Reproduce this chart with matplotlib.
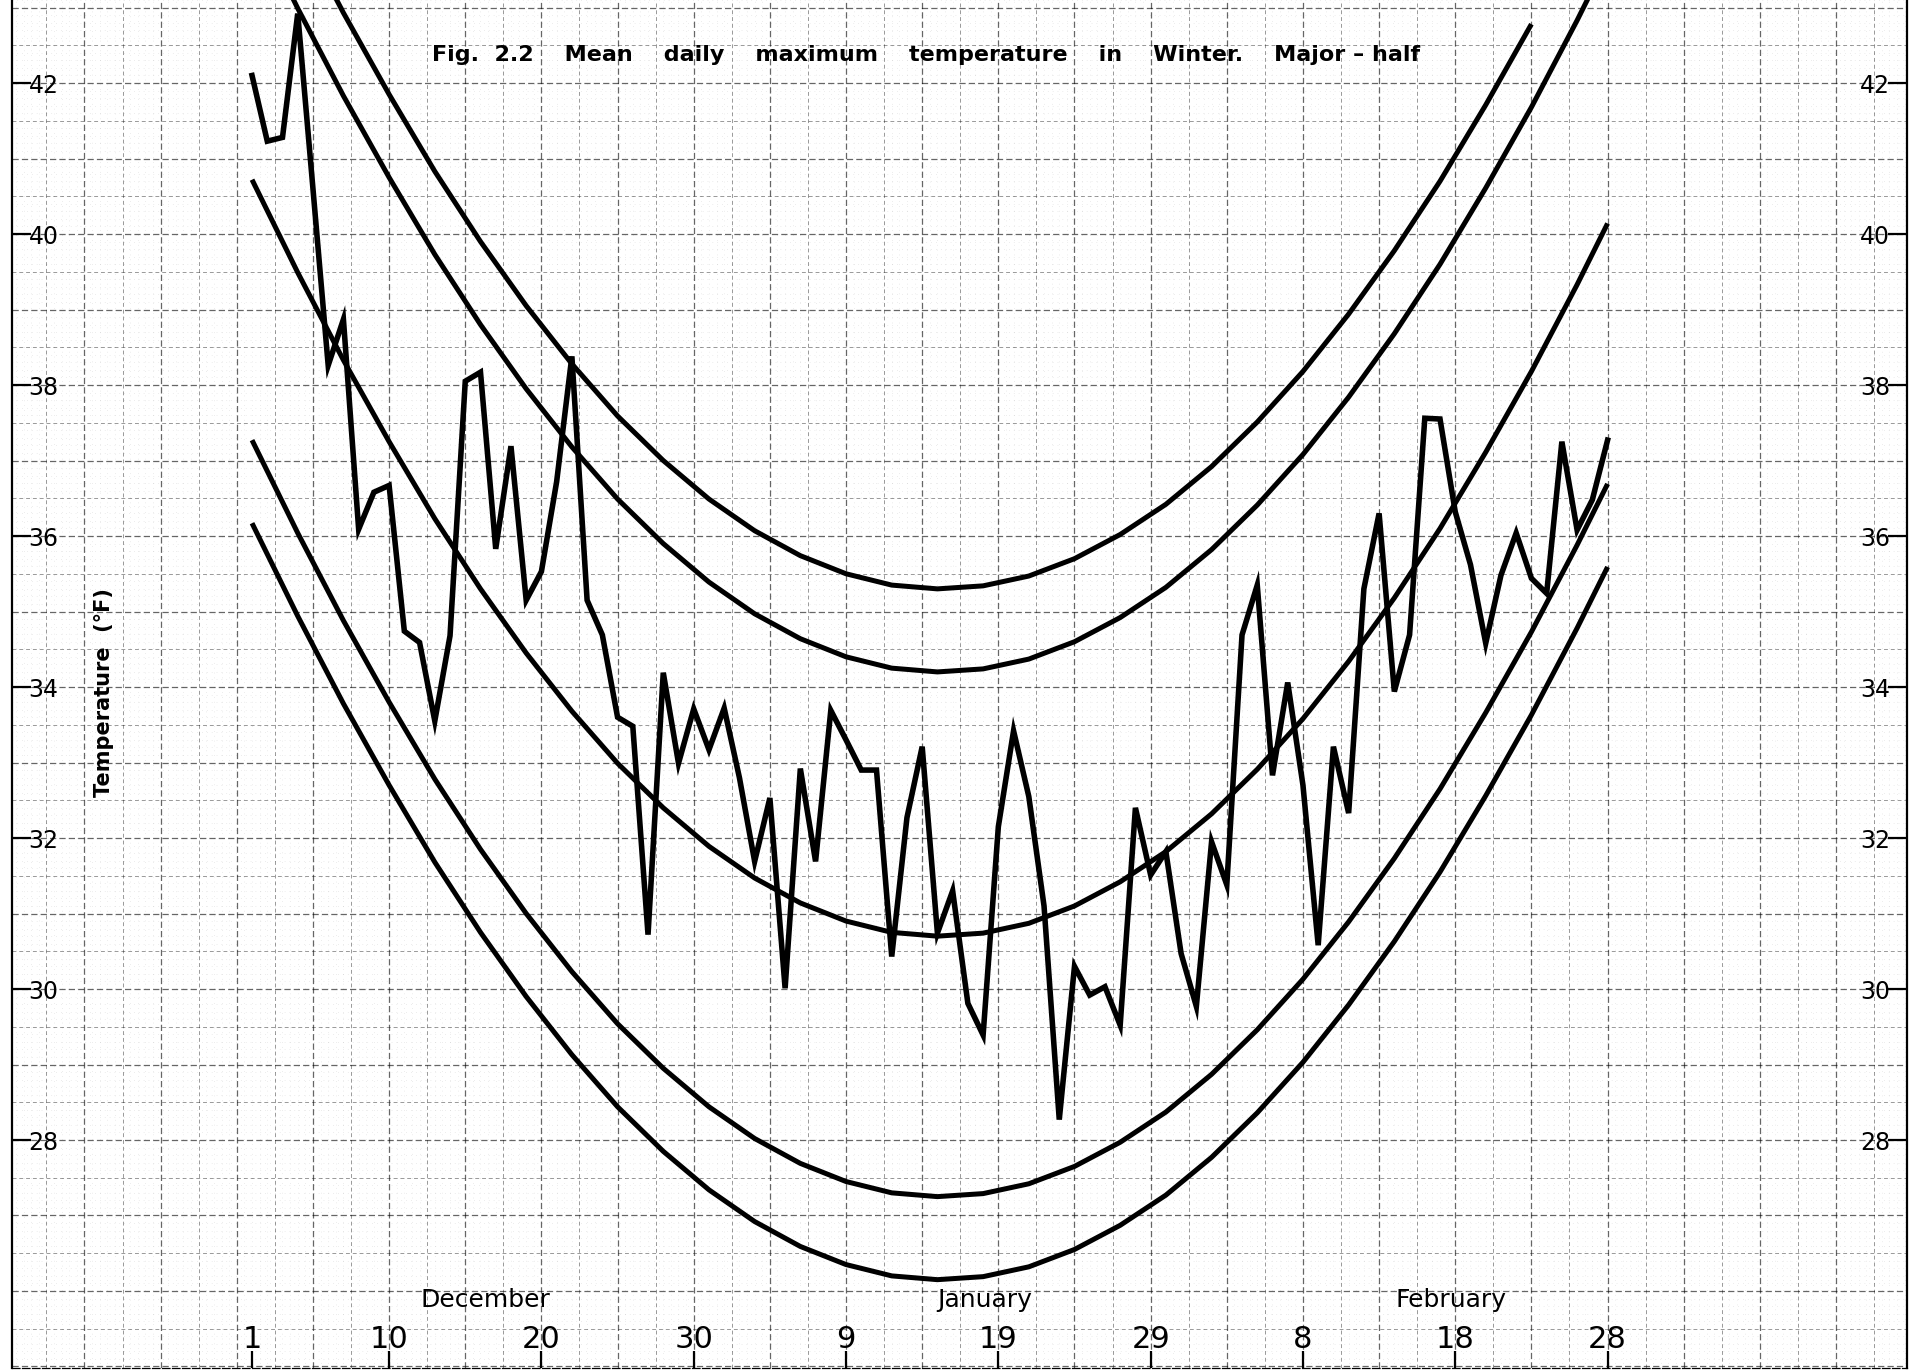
import matplotlib
matplotlib.use("Agg")
import matplotlib.pyplot as plt
import numpy as np

# daily series, Dec 1 (day 1) .. Feb 28 (day 90), deg F
days = np.arange(1, 91)
tmax = [42.10, 41.23, 41.28, 42.92, 40.60, 38.26, 38.87, 36.09, 36.58, 36.67,
        34.74, 34.59, 33.55, 34.68, 38.05, 38.17, 35.83, 37.19, 35.15, 35.53,
        36.72, 38.38, 35.15, 34.69, 33.60, 33.48, 30.72, 34.19, 32.99, 33.71,
        33.17, 33.72, 32.80, 31.69, 32.53, 30.01, 32.92, 31.69, 33.69, 33.30,
        32.90, 32.90, 30.43, 32.27, 33.21, 30.74, 31.30, 29.81, 29.39, 32.15,
        33.42, 32.55, 31.10, 28.27, 30.30, 29.92, 30.03, 29.52, 32.40, 31.51,
        31.82, 30.47, 29.77, 31.95, 31.38, 34.69, 35.35, 32.83, 34.06, 32.70,
        30.58, 33.21, 32.33, 35.30, 36.30, 33.94, 34.69, 37.56, 37.55, 36.32,
        35.62, 34.58, 35.48, 36.04, 35.44, 35.24, 37.25, 36.08, 36.48, 37.27]

# smooth seasonal curves (mean and envelope lines)
curve_days = [1, 4, 7, 10, 13, 16, 19, 22, 25, 28, 31, 34, 37, 40, 43, 46,
              49, 52, 55, 58, 61, 64, 67, 70, 73, 76, 79, 82, 85, 88, 90]
mean_curve = [40.72, 39.49, 38.33, 37.25, 36.23, 35.30, 34.45, 33.68, 32.99, 32.40,
              31.89, 31.47, 31.14, 30.90, 30.75, 30.70, 30.74, 30.87, 31.10, 31.42,
              31.82, 32.32, 32.91, 33.58, 34.34, 35.18, 36.10, 37.11, 38.18, 39.33, 40.14]
upper1 = [44.22, 42.99, 41.83, 40.75, 39.73, 38.80, 37.95, 37.18, 36.49, 35.90,
          35.39, 34.97, 34.64, 34.40, 34.25, 34.20, 34.24, 34.37, 34.60, 34.92,
          35.32, 35.82, 36.41, 37.08, 37.84, 38.68, 39.60, 40.61, 41.68, 42.83, 43.64]
lower1 = [37.27, 36.04, 34.88, 33.80, 32.78, 31.85, 31.00, 30.23, 29.54, 28.95,
          28.44, 28.02, 27.69, 27.45, 27.30, 27.25, 27.29, 27.42, 27.65, 27.97,
          28.37, 28.87, 29.46, 30.13, 30.89, 31.73, 32.65, 33.66, 34.73, 35.88, 36.69]
lower2 = [36.17, 34.94, 33.78, 32.70, 31.68, 30.75, 29.90, 29.13, 28.44, 27.85,
          27.34, 26.92, 26.59, 26.35, 26.20, 26.15, 26.19, 26.32, 26.55, 26.87,
          27.27, 27.77, 28.36, 29.03, 29.79, 30.63, 31.55, 32.56, 33.63, 34.78, 35.59]
upper2_days = [4, 7, 10, 13, 16, 19, 22, 25, 28, 31, 34, 37, 40, 43, 46,
               49, 52, 55, 58, 61, 64, 67, 70, 73, 76, 79, 82, 85]
upper2 = [44.09, 42.93, 41.85, 40.83, 39.90, 39.05, 38.28, 37.59, 37.00, 36.49,
          36.07, 35.74, 35.50, 35.35, 35.30, 35.34, 35.47, 35.70, 36.02, 36.42,
          36.92, 37.51, 38.18, 38.94, 39.78, 40.70, 41.71, 42.78]

tick_days = [1, 10, 20, 30, 40, 50, 60, 70, 80, 90]
tick_labels = ['1', '10', '20', '30', '9', '19', '29', '8', '18', '28']
months = ['December', 'January', 'February']
month_pos = [16.3, 49.1, 79.7]
temp_ticks = [28, 30, 32, 34, 36, 38, 40, 42]

W, H, DPI = 1923, 1372, 100
fig = plt.figure(figsize=(W / DPI, H / DPI), dpi=DPI, facecolor='white')
ax = fig.add_axes([12 / W, 4 / H, (1907 - 12) / W, 1368 / H])
ax.set_xlim(-14.76, 109.66)
ax.set_ylim(24.98, 43.10)

# graph paper
for y in np.arange(25.0, 43.11, 0.1):
    r = round(y * 10) % 10
    if r == 0:
        ax.axhline(y, color='k', lw=0.9, ls=(0, (5, 2.5)), alpha=0.6, zorder=0)
    elif r == 5:
        ax.axhline(y, color='k', lw=0.7, ls=(0, (4, 3)), alpha=0.4, zorder=0)
    else:
        ax.axhline(y, color='k', lw=0.5, ls=(0, (1, 6)), alpha=0.15, zorder=0)
for x in np.arange(-14.5, 109.7, 0.5):
    r = round(x * 2) % 10
    if r == 0:
        ax.axvline(x, color='k', lw=0.9, ls=(0, (5, 2.5)), alpha=0.6, zorder=0)
    elif r == 5:
        ax.axvline(x, color='k', lw=0.7, ls=(0, (4, 3)), alpha=0.4, zorder=0)
    else:
        ax.axvline(x, color='k', lw=0.5, ls=(0, (1, 6)), alpha=0.15, zorder=0)

# curves and daily series
for cd, cv in [(curve_days, mean_curve), (curve_days, upper1), (curve_days, lower1),
               (curve_days, lower2), (upper2_days, upper2)]:
    ax.plot(cd, cv, color='k', lw=3.6, solid_capstyle='butt', zorder=3)
ax.plot(days, tmax, color='k', lw=4.0, solid_joinstyle='miter', zorder=4)

# axes frame
ax.spines['top'].set_visible(False)
ax.spines['left'].set_linewidth(1.6)
ax.spines['right'].set_linewidth(1.6)
ax.spines['bottom'].set_linewidth(0.9)
ax.spines['bottom'].set_linestyle((0, (6, 2)))

ax.set_yticks(temp_ticks)
ax.tick_params(axis='y', which='major', direction='in', length=14, width=1.6,
               left=True, right=True, labelleft=True, labelright=True,
               pad=-12, labelsize=17)
for t in ax.yaxis.get_major_ticks():
    t.label1.set_horizontalalignment('left')
    t.label2.set_horizontalalignment('right')

ax.set_xticks(tick_days, tick_labels)
ax.tick_params(axis='x', which='major', direction='in', length=12, width=1.6,
               pad=-10, labelsize=22)
for t in ax.xaxis.get_major_ticks():
    t.label1.set_verticalalignment('bottom')
ax.tick_params(axis='both', which='minor', length=0)

for name, pos in zip(months, month_pos):
    ax.text(pos, 0.0497, name, transform=ax.get_xaxis_transform(),
            ha='center', va='center', fontsize=18)

fig.text(104 / W, 1 - 693 / H, 'Temperature  (°F)', rotation=90,
         ha='center', va='center', fontsize=15, fontweight='bold')
fig.text(926 / W, 1 - 55 / H,
         'Fig.  2.2    Mean    daily    maximum    temperature    in    Winter.    Major – half',
         ha='center', va='center', fontsize=16, fontweight='bold')

fig.savefig('out.png', dpi=DPI, facecolor='white')
